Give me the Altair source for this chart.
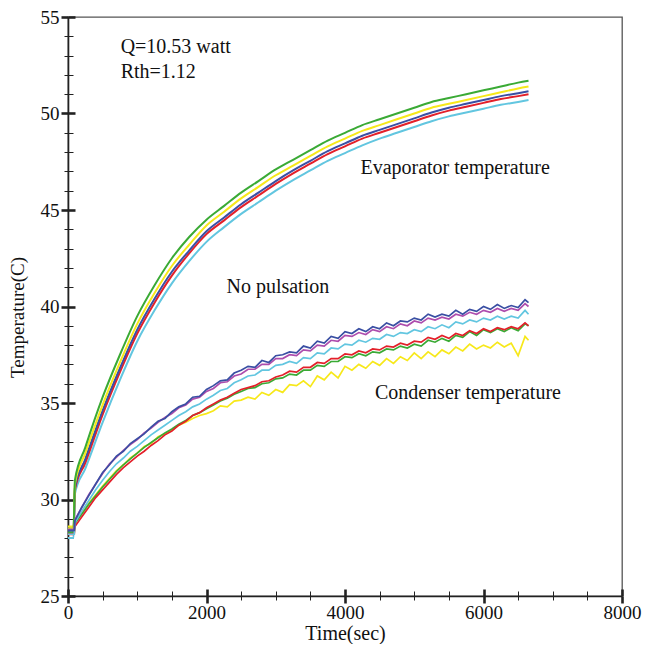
import altair as alt
import pandas as pd

# ---------------- data ----------------
TIME_E = [0, 80, 100, 250, 500, 750, 1000, 1250, 1500, 1750,
          2000, 2250, 2500, 2750, 3000, 3250, 3500, 3750, 4000, 4250,
          4500, 4750, 5000, 5250, 5500, 5750, 6000, 6250, 6500, 6650]

EVAP_GREEN = [28.5, 28.5, 31.0, 32.7, 35.3, 37.5, 39.5, 41.1, 42.5, 43.6,
              44.5, 45.2, 45.9, 46.5, 47.1, 47.6, 48.1, 48.6, 49.0, 49.4,
              49.7, 50.0, 50.3, 50.6, 50.8, 51.0, 51.2, 51.4, 51.6, 51.7]
EVAP_YELLOW = [28.6, 28.6, 30.8, 32.4, 34.9, 37.1, 39.1, 40.7, 42.1, 43.2,
               44.2, 44.9, 45.6, 46.2, 46.8, 47.3, 47.8, 48.3, 48.7, 49.1,
               49.4, 49.7, 50.0, 50.3, 50.5, 50.7, 50.9, 51.1, 51.3, 51.4]
EVAP_BLUE = [28.3, 28.3, 30.6, 32.1, 34.6, 36.8, 38.8, 40.4, 41.8, 42.9,
             43.9, 44.6, 45.3, 45.9, 46.5, 47.05, 47.55, 48.05, 48.45, 48.85,
             49.15, 49.45, 49.75, 50.05, 50.3, 50.5, 50.7, 50.9, 51.05, 51.15]
EVAP_RED = [28.2, 28.2, 30.5, 31.9, 34.4, 36.6, 38.6, 40.2, 41.6, 42.75,
            43.75, 44.45, 45.15, 45.75, 46.35, 46.9, 47.4, 47.9, 48.3, 48.7,
            49.0, 49.3, 49.6, 49.9, 50.15, 50.35, 50.55, 50.75, 50.9, 51.0]
EVAP_CYAN = [28.0, 28.0, 30.3, 31.6, 34.0, 36.2, 38.2, 39.8, 41.2, 42.35,
             43.35, 44.1, 44.8, 45.4, 46.0, 46.55, 47.05, 47.55, 47.95, 48.35,
             48.7, 49.0, 49.3, 49.6, 49.85, 50.05, 50.25, 50.45, 50.6, 50.7]

TIME_C = [0, 90, 100, 200, 300, 400, 500, 600, 700, 800,
          900, 1000, 1100, 1200, 1300, 1400, 1500, 1600, 1700, 1800,
          1900, 2000, 2100, 2200, 2300, 2400, 2500, 2600, 2700, 2800,
          2900, 3000, 3100, 3200, 3300, 3400, 3500, 3600, 3700, 3800,
          3900, 4000, 4100, 4200, 4300, 4400, 4500, 4600, 4700, 4800,
          4900, 5000, 5100, 5200, 5300, 5400, 5500, 5600, 5700, 5800,
          5900, 6000, 6100, 6200, 6300, 6400, 6500, 6600, 6650]

COND_BLUE = [28.4, 28.4, 28.9, 29.6, 30.2, 30.8, 31.4, 31.8, 32.25, 32.5,
             32.9, 33.15, 33.4, 33.75, 34.05, 34.2, 34.55, 34.8, 34.95, 35.3,
             35.35, 35.7, 35.9, 36.15, 36.2, 36.55, 36.7, 36.9, 36.85, 37.2,
             37.1, 37.45, 37.5, 37.65, 37.6, 37.95, 37.85, 38.2, 38.1, 38.45,
             38.35, 38.7, 38.6, 38.85, 38.7, 38.95, 38.85, 39.15, 39.0, 39.25,
             39.2, 39.4, 39.3, 39.6, 39.45, 39.6, 39.5, 39.8, 39.6, 39.85,
             39.75, 40.0, 39.85, 40.1, 39.9, 40.05, 39.95, 40.35, 40.2]
COND_MAGENTA = [28.45, 28.45, 28.95, 29.6, 30.25, 30.8, 31.35, 31.85, 32.2, 32.55,
                32.85, 33.1, 33.45, 33.7, 34.0, 34.25, 34.45, 34.75, 34.9, 35.2,
                35.3, 35.6, 35.75, 36.05, 36.1, 36.4, 36.5, 36.75, 36.75, 37.0,
                37.0, 37.3, 37.3, 37.5, 37.45, 37.75, 37.7, 38.0, 37.95, 38.25,
                38.2, 38.5, 38.45, 38.65, 38.55, 38.8, 38.7, 38.95, 38.85, 39.1,
                39.0, 39.25, 39.15, 39.4, 39.3, 39.45, 39.35, 39.6, 39.5, 39.7,
                39.6, 39.8, 39.7, 39.9, 39.75, 39.9, 39.8, 40.15, 40.0]
COND_CYAN = [28.2, 28.2, 28.8, 29.4, 29.95, 30.5, 31.0, 31.45, 31.85, 32.15,
             32.5, 32.75, 33.05, 33.35, 33.6, 33.85, 34.1, 34.35, 34.55, 34.8,
             34.95, 35.2, 35.4, 35.65, 35.75, 36.05, 36.2, 36.4, 36.45, 36.7,
             36.7, 36.95, 37.0, 37.15, 37.05, 37.35, 37.3, 37.6, 37.55, 37.85,
             37.8, 38.05, 38.0, 38.25, 38.15, 38.35, 38.3, 38.55, 38.45, 38.65,
             38.6, 38.8, 38.7, 38.95, 38.85, 39.05, 38.9, 39.2, 39.1, 39.3,
             39.2, 39.4, 39.3, 39.5, 39.35, 39.5, 39.4, 39.8, 39.6]
COND_RED = [28.2, 28.2, 28.6, 29.1, 29.6, 30.1, 30.5, 30.9, 31.3, 31.65,
            31.95, 32.25, 32.5, 32.8, 33.05, 33.35, 33.55, 33.85, 34.05, 34.35,
            34.5, 34.75, 34.95, 35.15, 35.3, 35.5, 35.7, 35.8, 35.9, 36.1,
            36.15, 36.35, 36.45, 36.65, 36.6, 36.85, 36.85, 37.1, 37.05, 37.3,
            37.3, 37.55, 37.5, 37.7, 37.6, 37.8, 37.75, 37.95, 37.9, 38.1,
            38.0, 38.2, 38.15, 38.4, 38.3, 38.5, 38.35, 38.6, 38.5, 38.75,
            38.6, 38.85, 38.7, 38.9, 38.8, 38.95, 38.85, 39.15, 39.0]
COND_GREEN = [28.3, 28.3, 28.75, 29.25, 29.75, 30.2, 30.65, 31.05, 31.45, 31.8,
              32.1, 32.4, 32.7, 32.95, 33.2, 33.45, 33.65, 33.9, 34.1, 34.35,
              34.5, 34.7, 34.9, 35.1, 35.25, 35.45, 35.6, 35.75, 35.8, 36.0,
              36.05, 36.25, 36.3, 36.5, 36.45, 36.7, 36.7, 36.95, 36.9, 37.15,
              37.15, 37.4, 37.35, 37.55, 37.45, 37.65, 37.6, 37.8, 37.75, 37.95,
              37.85, 38.05, 37.95, 38.25, 38.15, 38.35, 38.2, 38.5, 38.4, 38.7,
              38.5, 38.8, 38.65, 38.85, 38.7, 38.9, 38.75, 39.1, 39.0]
COND_YELLOW = [28.5, 28.5, 28.8, 29.3, 29.8, 30.25, 30.7, 31.1, 31.5, 31.8,
               32.15, 32.4, 32.75, 32.9, 33.25, 33.4, 33.6, 33.85, 34.0, 34.2,
               34.35, 34.45, 34.6, 34.85, 34.8, 35.1, 35.15, 35.3, 35.2, 35.55,
               35.4, 35.7, 35.55, 35.95, 35.9, 36.15, 35.85, 36.4, 36.2, 36.6,
               36.3, 36.9, 36.7, 37.0, 36.8, 37.15, 36.95, 37.3, 37.05, 37.4,
               37.2, 37.6, 37.3, 37.65, 37.4, 37.75, 37.55, 37.9, 37.7, 38.05,
               37.8, 38.0, 37.85, 38.15, 37.9, 38.1, 37.45, 38.45, 38.25]

X_TICKS = [0, 500, 1000, 1500, 2000, 2500, 3000, 3500, 4000,
           4500, 5000, 5500, 6000, 6500, 7000, 7500, 8000]
Y_TICKS = [25, 26, 27, 28, 29, 30, 31, 32, 33, 34, 35, 36, 37, 38, 39, 40,
           41, 42, 43, 44, 45, 46, 47, 48, 49, 50, 51, 52, 53, 54, 55]

ANNOT_TEXT = ["Q=10.53 watt", "Rth=1.12", "Evaporator temperature",
              "No pulsation", "Condenser temperature"]

# ---------------- styling ----------------
GREEN = "#3aaa35"
YELLOW = "#f7e81a"
BLUE = "#3a4fa3"
RED = "#e3202a"
CYAN = "#62c6e0"
MAGENTA = "#ad4dad"
FONT = "Liberation Serif"
W, H = 554, 579

evap_series = [("E-cyan", EVAP_CYAN, CYAN), ("E-red", EVAP_RED, RED),
               ("E-blue", EVAP_BLUE, BLUE), ("E-yellow", EVAP_YELLOW, YELLOW),
               ("E-green", EVAP_GREEN, GREEN)]
cond_series = [("C-yellow", COND_YELLOW, YELLOW), ("C-green", COND_GREEN, GREEN),
               ("C-red", COND_RED, RED), ("C-cyan", COND_CYAN, CYAN),
               ("C-magenta", COND_MAGENTA, MAGENTA), ("C-blue", COND_BLUE, BLUE)]

rows_e = []
for i, (name, vals, _) in enumerate(evap_series):
    for t, v in zip(TIME_E, vals):
        rows_e.append({"time": t, "temp": v, "series": name, "ord": i})
rows_c = []
for i, (name, vals, _) in enumerate(cond_series):
    for t, v in zip(TIME_C, vals):
        rows_c.append({"time": t, "temp": v, "series": name, "ord": i})
df_e = pd.DataFrame(rows_e)
df_c = pd.DataFrame(rows_c)

all_names = [s[0] for s in evap_series] + [s[0] for s in cond_series]
all_colors = [s[2] for s in evap_series] + [s[2] for s in cond_series]
color = alt.Color("series:N", scale=alt.Scale(domain=all_names, range=all_colors),
                  legend=None)

xs = alt.Scale(domain=[0, 8000], nice=False, zero=False)
ys = alt.Scale(domain=[25, 55], nice=False, zero=False)

x_major = "datum.value % 2000 === 0"
y_major = "datum.value % 5 === 0"

x_axis_main = alt.Axis(
    values=X_TICKS, format="d", labelExpr=f"{x_major} ? datum.label : ''",
    title="Time(sec)", titleFont=FONT, titleFontSize=20, titleFontWeight="normal",
    titleColor="#111", titleBaseline="alphabetic", titleY=43,
    labelFont=FONT, labelFontSize=19,
    labelColor="#111", labelPadding=0, labelFlush=False, labelOverlap=False,
    grid=False, domainColor="#222", domainWidth=1.6, tickColor="#222",
    tickSize={"condition": {"test": x_major, "value": 7}, "value": 4},
    tickWidth={"condition": {"test": x_major, "value": 2.6}, "value": 1},
)
x_axis_inner = alt.Axis(
    orient="top", offset=-H, values=X_TICKS, labels=False, domain=False,
    title=None, grid=False, tickColor="#222",
    tickSize={"condition": {"test": x_major, "value": 7}, "value": 5},
    tickWidth={"condition": {"test": x_major, "value": 2.6}, "value": 1},
)
y_axis_main = alt.Axis(
    values=Y_TICKS, format="d", labelExpr=f"{y_major} ? datum.label : ''",
    title="Temperature(C)", titleFont=FONT, titleFontSize=19,
    titleFontWeight="normal", titleColor="#111", titlePadding=13, titleY=300,
    labelFont=FONT, labelFontSize=19, labelColor="#111", labelPadding=2,
    labelFlush=False, labelOverlap=False, grid=False, domainColor="#222",
    domainWidth=1.6, tickColor="#222",
    tickSize={"condition": {"test": y_major, "value": 7}, "value": 4},
    tickWidth={"condition": {"test": y_major, "value": 2.6}, "value": 1},
)
y_axis_inner = alt.Axis(
    orient="right", offset=-W, values=Y_TICKS, labels=False, domain=False,
    title=None, grid=False, tickColor="#222",
    tickSize={"condition": {"test": y_major, "value": 7}, "value": 5},
    tickWidth={"condition": {"test": y_major, "value": 2.6}, "value": 1},
)

evap = alt.Chart(df_e).mark_line(strokeWidth=2, interpolate="monotone").encode(
    x=alt.X("time:Q", scale=xs, axis=x_axis_main),
    y=alt.Y("temp:Q", scale=ys, axis=y_axis_main),
    color=color,
    detail="series:N",
    order=alt.Order("time:Q"),
)
cond = alt.Chart(df_c).mark_line(strokeWidth=1.7).encode(
    x=alt.X("time:Q", scale=xs, axis=x_axis_inner),
    y=alt.Y("temp:Q", scale=ys, axis=y_axis_inner),
    color=color,
    detail="series:N",
    order=alt.Order("time:Q"),
)

# annotation positions (data coordinates)
annot = pd.DataFrame({
    "label": ANNOT_TEXT,
    "time": [760, 760, 5590, 3030, 5775],
    "temp": [53.42, 52.13, 47.18, 40.99, 35.54],
    "align": ["left", "left", "center", "center", "center"],
})
text_left = alt.Chart(annot[annot["align"] == "left"]).mark_text(
    font=FONT, fontSize=20, color="#111", align="left", baseline="middle"
).encode(
    x=alt.X("time:Q", scale=xs, axis=None),
    y=alt.Y("temp:Q", scale=ys, axis=None),
    text="label:N",
)
text_center = alt.Chart(annot[annot["align"] == "center"]).mark_text(
    font=FONT, fontSize=20, color="#111", align="center", baseline="middle"
).encode(
    x=alt.X("time:Q", scale=xs, axis=None),
    y=alt.Y("temp:Q", scale=ys, axis=None),
    text="label:N",
)

chart = alt.layer(evap, cond, text_left, text_center).resolve_axis(
    x="independent", y="independent"
).properties(
    width=W, height=H,
    autosize=alt.AutoSizeParams(type="none"),
    padding={"left": 60, "top": 9, "right": 21, "bottom": 48},
    background="white",
).configure_view(
    stroke="#555", strokeWidth=1.3
)

chart.save("out.html", embed_options={"renderer": "svg", "actions": False})
